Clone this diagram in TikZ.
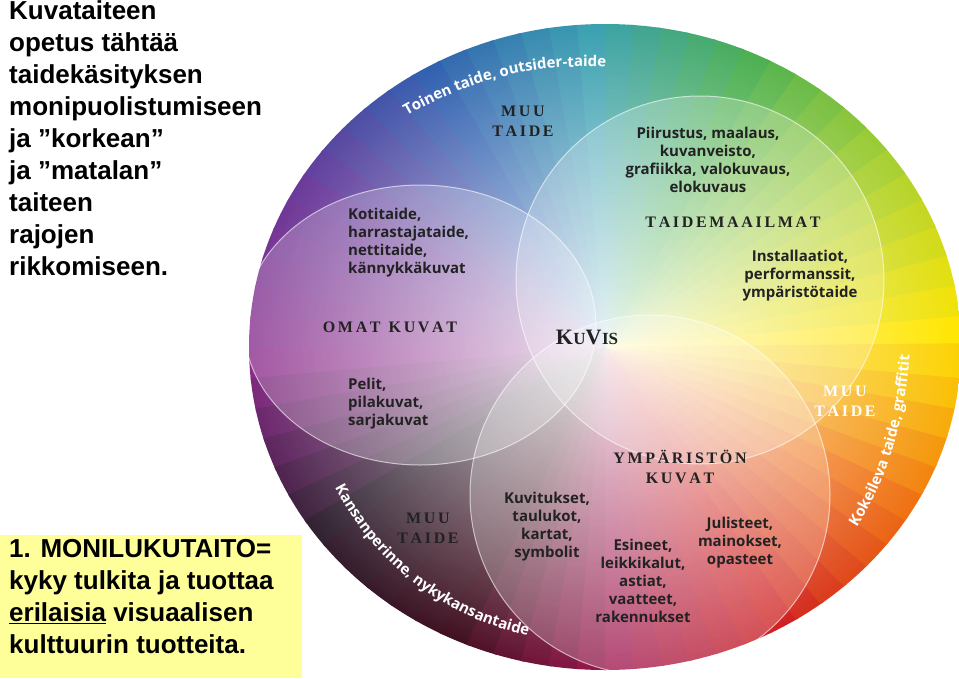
\documentclass[tikz,border=0pt]{standalone}
\usepackage{fontspec}
\setmainfont{Liberation Sans}
\newfontfamily\osans{Open Sans}
\newfontfamily\lserif{Liberation Serif}
\usetikzlibrary{fadings,decorations.text}
\tikzfading[name=myfade, inner color=transparent!0, outer color=transparent!100]
\definecolor{c0}{HTML}{FFE600}
\definecolor{c1}{HTML}{A8D030}
\definecolor{c2}{HTML}{4CB050}
\definecolor{c3}{HTML}{3AA0B0}
\definecolor{c4}{HTML}{3060B0}
\definecolor{c5}{HTML}{6A3A9A}
\definecolor{c6}{HTML}{8A2A8A}
\definecolor{c7}{HTML}{302030}
\definecolor{c8}{HTML}{401020}
\definecolor{c9}{HTML}{A01850}
\definecolor{c10}{HTML}{D02020}
\definecolor{c11}{HTML}{F07010}
\definecolor{c12}{HTML}{FFE600}
\definecolor{txt}{HTML}{222222}
\definecolor{boxy}{HTML}{FFFF99}
\tikzset{
 lab/.style={font=\osans\bfseries\fontsize{15}{18}\selectfont, text=txt, align=center, inner sep=0pt},
 labl/.style={lab, align=left},
 head/.style={font=\lserif\bfseries\fontsize{16}{20}\selectfont, text=txt, align=center, inner sep=0pt},
 ring/.style={fill=white, fill opacity=0.22, draw=white, draw opacity=0.6, line width=1pt},
 big/.style={font=\bfseries\fontsize{26}{32}\selectfont, align=left, inner sep=0pt, anchor=north west},
 curv/.style={decorate, decoration={text along path, text align=center, text color=white}}
}
\begin{document}
\begin{tikzpicture}[x=1pt,y=-1pt]
\useasboundingbox (0,0) rectangle (959,678);
\fill[white] (0,0) rectangle (959,678);
\begin{scope}
\clip (605,347) ellipse (356 and 323);
\foreach \i [evaluate=\i as \j using int(\i+1)] in {0,...,11}{
 \foreach \k in {0,1,2,3,4,5}{
  \pgfmathsetmacro\p{100-\k*100/6}
  \pgfmathsetmacro\aa{\i*30+\k*5}
  \pgfmathsetmacro\ab{\aa+5.6}
  \fill[c\i!\p!c\j] (605,347) -- ++(-\aa:520) arc[start angle=-\aa, end angle=-\ab, radius=520] -- cycle;
 }
}
\fill[white, path fading=myfade, fill opacity=0.85] (605,347) ellipse (356 and 323);
\end{scope}
\node[draw=none] (wheel) at (605,347) {};
\fill[ring] (420,325) ellipse (176 and 140);
\fill[ring] (700,280) circle (184);
\fill[ring] (650,495) circle (180);

\path[curv, decoration={text={|\osans\bfseries\fontsize{15}{18}\selectfont|Toinen taide, outsider-taide}}] (400,120) .. controls (470,78) and (540,62) .. (614,68);
\path[curv, decoration={text={|\osans\bfseries\fontsize{15}{18}\selectfont|Kansanperinne, nykykansantaide}}] (334,486) .. controls (375,565) and (445,618) .. (530,636);
\path[curv, decoration={text={|\osans\bfseries\fontsize{15}{18}\selectfont|Kokeileva taide, graffitit}}] (855,530) .. controls (888,480) and (905,420) .. (910,352);

\node[head] (mt1) at (523,121) {M\,U\,U\\T\,A\,I\,D\,E};
\node[lab] (piir) at (708,160) {Piirustus, maalaus,\\kuvanveisto,\\grafiikka, valokuvaus,\\elokuvaus};
\node[head] (tm) at (733,222) {T\,A\,I\,D\,E\,M\,A\,A\,I\,L\,M\,A\,T};
\node[lab] (inst) at (800,276) {Installaatiot,\\performanssit,\\ympäristötaide};
\node[labl, anchor=west] (koti) at (348,243) {Kotitaide,\\harrastajataide,\\nettitaide,\\kännykkäkuvat};
\node[head] (omat) at (390,327) {O\,M\,A\,T\ \ K\,U\,V\,A\,T};
\node[head, font=\lserif\bfseries\fontsize{22}{26}\selectfont] (kuvis) at (587,337) {K\kern0.5pt{\fontsize{17}{20}\selectfont U}V\kern0.5pt{\fontsize{17}{20}\selectfont IS}};
\node[labl, anchor=west] (pelit) at (348,404) {Pelit,\\pilakuvat,\\sarjakuvat};
\node[head, text=white] (mt2) at (845,401) {M\,U\,U\\T\,A\,I\,D\,E};
\node[head] (ymp) at (680,467) {Y\,M\,P\,Ä\,R\,I\,S\,T\,Ö\,N\\K\,U\,V\,A\,T};
\node[head] (mt3) at (428,528) {M\,U\,U\\T\,A\,I\,D\,E};
\node[lab] (kuvit) at (547,527) {Kuvitukset,\\taulukot,\\kartat,\\symbolit};
\node[lab] (esin) at (643,581) {Esineet,\\leikkikalut,\\astiat,\\vaatteet,\\rakennukset};
\node[lab] (jul) at (740,543) {Julisteet,\\mainokset,\\opasteet};

\node[big] (intro) at (9,0) {Kuvataiteen\\opetus tähtää\\taidekäsityksen\\monipuolistumiseen\\ja ”korkean”\\ja ”matalan”\\taiteen\\rajojen\\rikkomiseen.};
\fill[boxy] (0,535) rectangle (302,678);
\node[big] (mono) at (9,539) {1. MONILUKUTAITO=\\kyky tulkita ja tuottaa\\\underline{erilaisia} visuaalisen\\kulttuurin tuotteita.};
\end{tikzpicture}
\end{document}
